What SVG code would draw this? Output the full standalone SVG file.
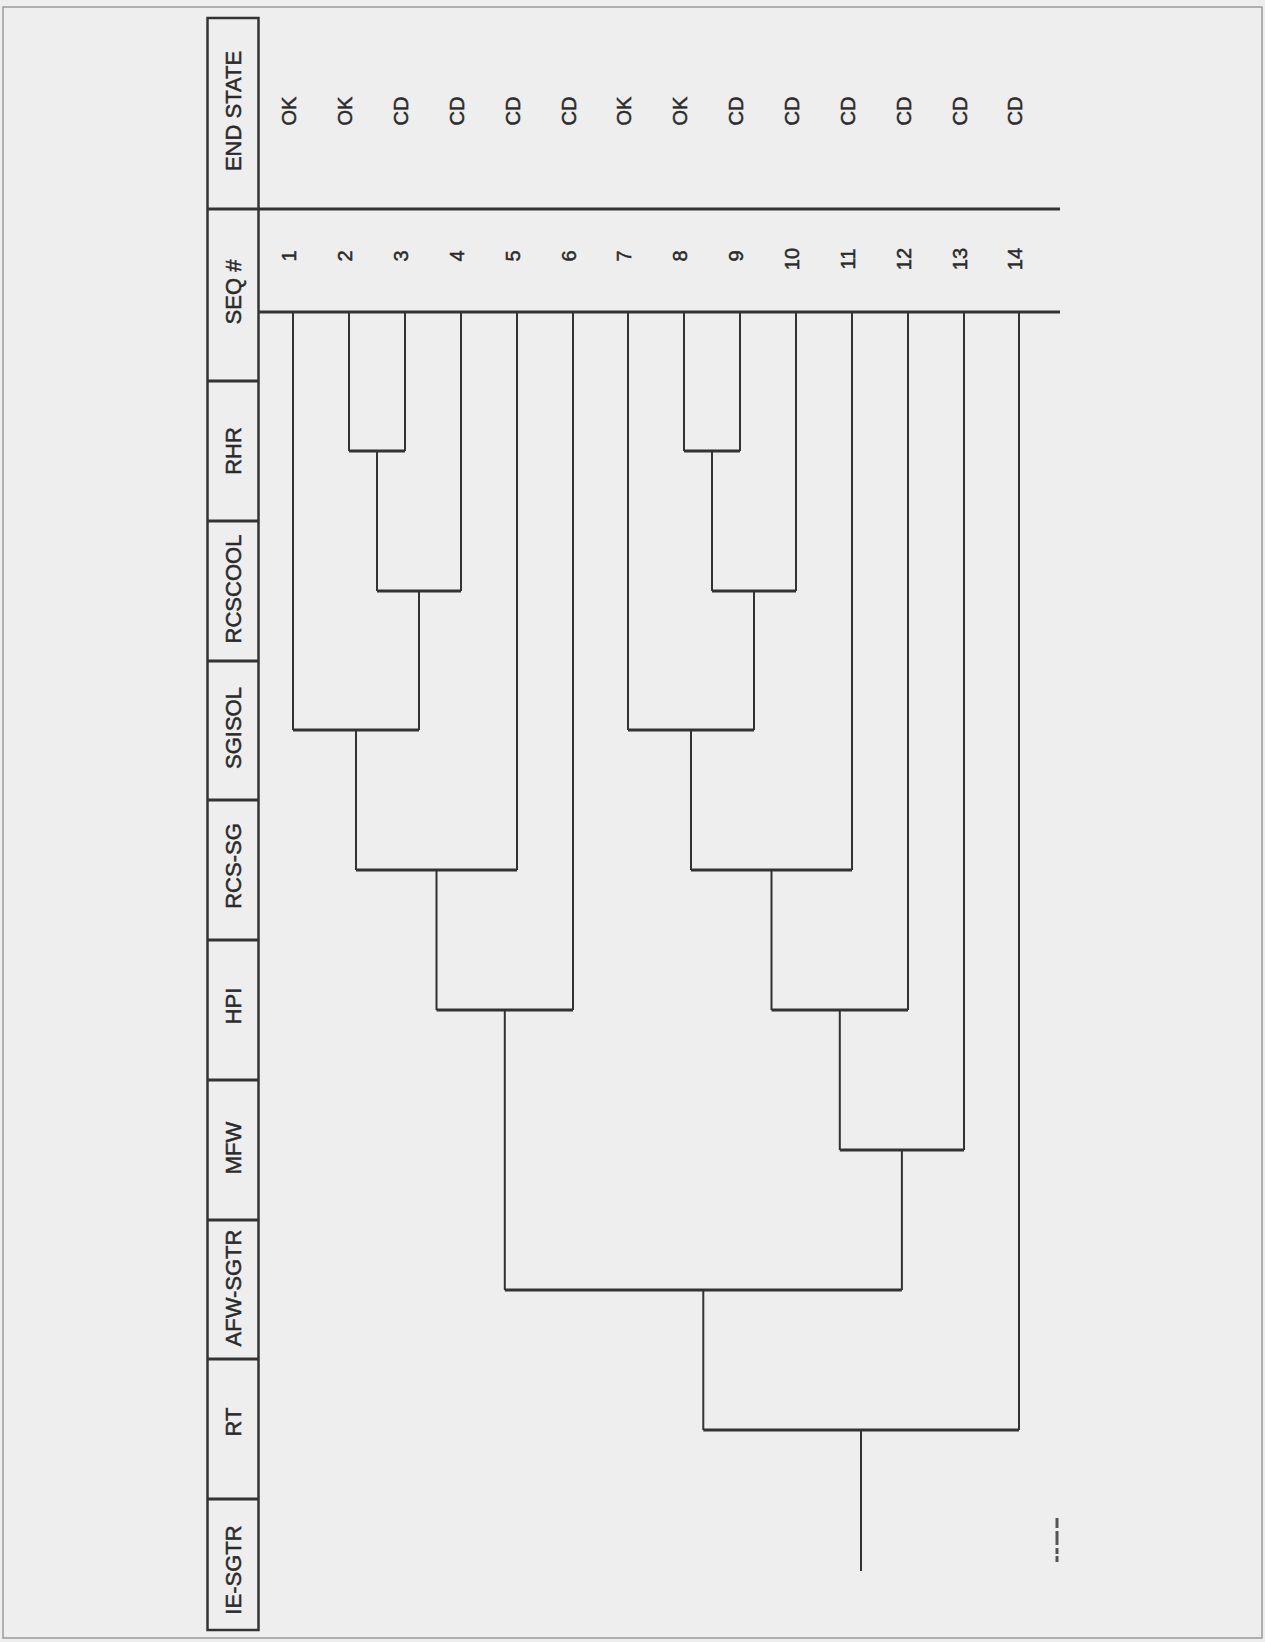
<svg xmlns="http://www.w3.org/2000/svg" width="1265" height="1642" viewBox="0 0 1265 1642">
<style>
.bg{fill:#eeeeee}
.frame{fill:none;stroke:#9a9a9a;stroke-width:1.5}
.hbox{fill:none;stroke:#333;stroke-width:2.5}
.div{stroke:#333;stroke-width:3}
.rule{stroke:#333;stroke-width:3}
.v{fill:none;stroke:#333;stroke-width:2}
.b{fill:none;stroke:#333;stroke-width:3}
.h{font-family:"Liberation Sans",Arial,sans-serif;font-size:22px;fill:#2a2a2a;stroke:#2a2a2a;stroke-width:0.5;text-anchor:middle;dominant-baseline:central}
.lbl{font-family:"Liberation Sans",Arial,sans-serif;font-size:20px;fill:#2a2a2a;stroke:#2a2a2a;stroke-width:0.5;text-anchor:middle;dominant-baseline:central}
</style>
<rect class="bg" x="0" y="0" width="1265" height="1642"/>
<rect class="frame" x="3" y="7" width="1259" height="1631"/>

<g id="header">
<rect class="hbox" x="207.5" y="18" width="51" height="1612"/>
<g id="h-endstate"><text class="h" x="233" y="111" transform="rotate(-90 233 111)">END STATE</text></g>
<line class="div" x1="207.5" y1="209" x2="258.5" y2="209"/>
<g id="h-seq"><text class="h" x="233" y="292" transform="rotate(-90 233 292)">SEQ #</text></g>
<line class="div" x1="207.5" y1="381" x2="258.5" y2="381"/>
<g id="h-rhr"><text class="h" x="233" y="451" transform="rotate(-90 233 451)">RHR</text></g>
<line class="div" x1="207.5" y1="521" x2="258.5" y2="521"/>
<g id="h-rcscool"><text class="h" x="233" y="589" transform="rotate(-90 233 589)">RCSCOOL</text></g>
<line class="div" x1="207.5" y1="661" x2="258.5" y2="661"/>
<g id="h-sgisol"><text class="h" x="233" y="728" transform="rotate(-90 233 728)">SGISOL</text></g>
<line class="div" x1="207.5" y1="800" x2="258.5" y2="800"/>
<g id="h-rcssg"><text class="h" x="233" y="866" transform="rotate(-90 233 866)">RCS-SG</text></g>
<line class="div" x1="207.5" y1="940" x2="258.5" y2="940"/>
<g id="h-hpi"><text class="h" x="233" y="1006" transform="rotate(-90 233 1006)">HPI</text></g>
<line class="div" x1="207.5" y1="1080" x2="258.5" y2="1080"/>
<g id="h-mfw"><text class="h" x="233" y="1148" transform="rotate(-90 233 1148)">MFW</text></g>
<line class="div" x1="207.5" y1="1220" x2="258.5" y2="1220"/>
<g id="h-afwsgtr"><text class="h" x="233" y="1288" transform="rotate(-90 233 1288)">AFW-SGTR</text></g>
<line class="div" x1="207.5" y1="1359" x2="258.5" y2="1359"/>
<g id="h-rt"><text class="h" x="233" y="1422" transform="rotate(-90 233 1422)">RT</text></g>
<line class="div" x1="207.5" y1="1499" x2="258.5" y2="1499"/>
<g id="h-iesgtr"><text class="h" x="233" y="1570" transform="rotate(-90 233 1570)">IE-SGTR</text></g>
</g>

<g id="rules">
<line class="rule" x1="258.5" y1="209" x2="1060" y2="209"/>
<line class="rule" x1="258.5" y1="312" x2="1060" y2="312"/>
</g>

<g id="endstates">
<g id="es1"><text class="lbl" x="289" y="111" transform="rotate(-90 289 111)">OK</text></g>
<g id="es2"><text class="lbl" x="345" y="111" transform="rotate(-90 345 111)">OK</text></g>
<g id="es3"><text class="lbl" x="401" y="111" transform="rotate(-90 401 111)">CD</text></g>
<g id="es4"><text class="lbl" x="457" y="111" transform="rotate(-90 457 111)">CD</text></g>
<g id="es5"><text class="lbl" x="513" y="111" transform="rotate(-90 513 111)">CD</text></g>
<g id="es6"><text class="lbl" x="569" y="111" transform="rotate(-90 569 111)">CD</text></g>
<g id="es7"><text class="lbl" x="624" y="111" transform="rotate(-90 624 111)">OK</text></g>
<g id="es8"><text class="lbl" x="680" y="111" transform="rotate(-90 680 111)">OK</text></g>
<g id="es9"><text class="lbl" x="736" y="111" transform="rotate(-90 736 111)">CD</text></g>
<g id="es10"><text class="lbl" x="792" y="111" transform="rotate(-90 792 111)">CD</text></g>
<g id="es11"><text class="lbl" x="848" y="111" transform="rotate(-90 848 111)">CD</text></g>
<g id="es12"><text class="lbl" x="904" y="111" transform="rotate(-90 904 111)">CD</text></g>
<g id="es13"><text class="lbl" x="960" y="111" transform="rotate(-90 960 111)">CD</text></g>
<g id="es14"><text class="lbl" x="1015" y="111" transform="rotate(-90 1015 111)">CD</text></g>
</g>

<g id="seqnums">
<g id="sq1"><text class="lbl" x="289" y="256" transform="rotate(-90 289 256)">1</text></g>
<g id="sq2"><text class="lbl" x="345" y="256" transform="rotate(-90 345 256)">2</text></g>
<g id="sq3"><text class="lbl" x="401" y="256" transform="rotate(-90 401 256)">3</text></g>
<g id="sq4"><text class="lbl" x="457" y="256" transform="rotate(-90 457 256)">4</text></g>
<g id="sq5"><text class="lbl" x="513" y="256" transform="rotate(-90 513 256)">5</text></g>
<g id="sq6"><text class="lbl" x="569" y="256" transform="rotate(-90 569 256)">6</text></g>
<g id="sq7"><text class="lbl" x="624" y="256" transform="rotate(-90 624 256)">7</text></g>
<g id="sq8"><text class="lbl" x="680" y="256" transform="rotate(-90 680 256)">8</text></g>
<g id="sq9"><text class="lbl" x="736" y="256" transform="rotate(-90 736 256)">9</text></g>
<g id="sq10"><text class="lbl" x="792" y="259" transform="rotate(-90 792 259)">10</text></g>
<g id="sq11"><text class="lbl" x="848" y="259" transform="rotate(-90 848 259)">11</text></g>
<g id="sq12"><text class="lbl" x="904" y="259" transform="rotate(-90 904 259)">12</text></g>
<g id="sq13"><text class="lbl" x="960" y="259" transform="rotate(-90 960 259)">13</text></g>
<g id="sq14"><text class="lbl" x="1015" y="259" transform="rotate(-90 1015 259)">14</text></g>
</g>

<g id="connectors">
<path class="v" d="M293 312V730 M349 312V451 M405 312V451 M461 312V591 M517 312V870 M573 312V1010 M628 312V730 M684 312V451 M740 312V451 M796 312V591 M852 312V870 M908 312V1010 M964 312V1150 M1019 312V1430"/>
<path class="v" d="M377 451V591 M419 591V730 M356 730V870 M436.5 870V1010 M504.8 1010V1290 M712 451V591 M754 591V730 M691 730V870 M771.5 870V1010 M839.8 1010V1150 M901.9 1150V1290 M703.3 1290V1430 M861 1430V1571"/>
<path class="b" d="M349 451H405 M684 451H740 M377 591H461 M712 591H796 M293 730H419 M628 730H754 M356 870H517 M691 870H852 M436.5 1010H573 M771.5 1010H908 M839.8 1150H964 M504.8 1290H901.9 M703.3 1430H1019"/>
</g>

<line x1="1057" y1="1518" x2="1057" y2="1562" stroke="#555" stroke-width="3" stroke-dasharray="10 3 14 3 6 2"/>
</svg>
